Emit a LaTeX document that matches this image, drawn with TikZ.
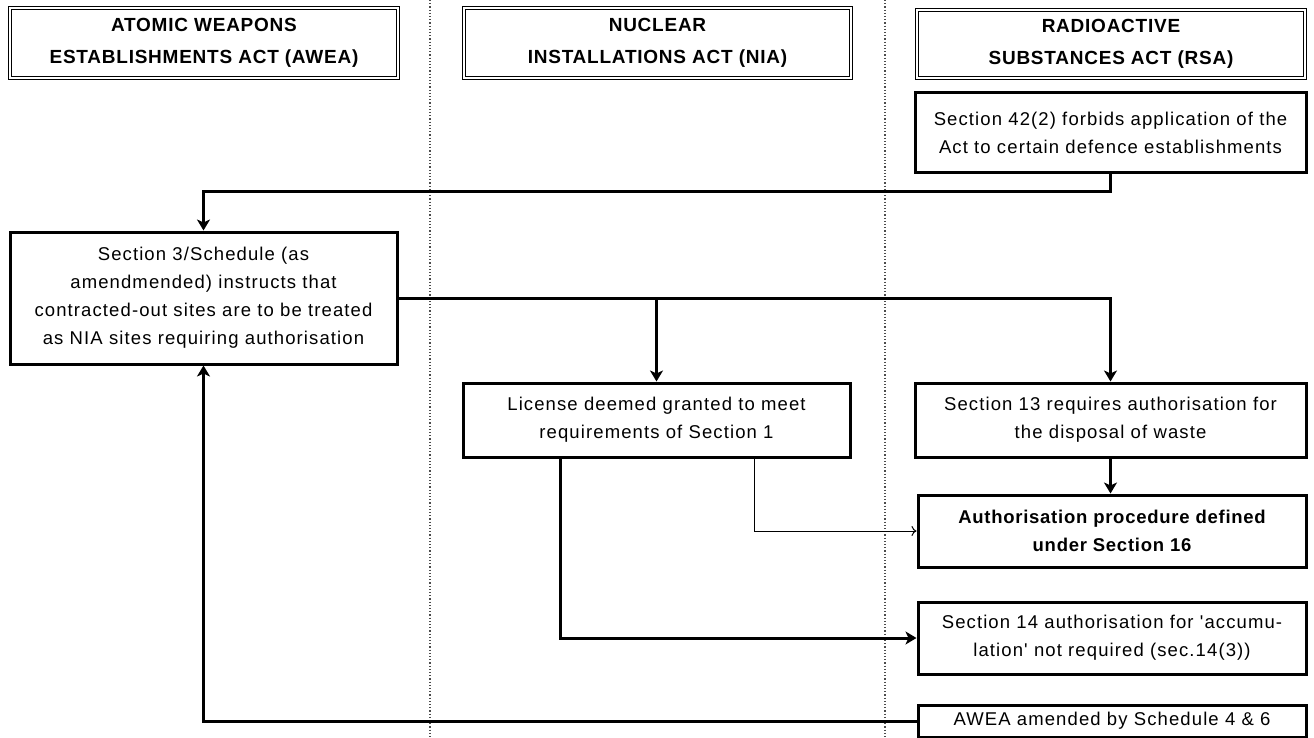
\documentclass[tikz,border=0pt]{standalone}
\usepackage{fontspec}
\setmainfont{Liberation Sans}
\newfontfamily\bodyfont{Liberation Sans}[LetterSpace=6]
\newfontfamily\hdrfont{Liberation Sans}[LetterSpace=4]
\usetikzlibrary{arrows.meta}
\tikzset{
  box/.style={draw, line width=3pt, align=center, inner sep=0pt,
    font=\bodyfont\fontsize{18.5}{28}\selectfont},
  hdr/.style={draw, double, double distance=2.2pt, line width=1.1pt, align=center, inner sep=0pt,
    font=\hdrfont\bfseries\fontsize{19}{32}\selectfont},
  conn/.style={line width=3pt, -{Stealth[length=11pt,width=13pt,inset=3pt]}},
  thinconn/.style={line width=1pt, -{To[length=5pt,width=10pt]}},
  sep/.style={line width=1.2pt, dotted, black!70}
}
\begin{document}
\begin{tikzpicture}[x=1pt,y=-1pt]
\useasboundingbox (0,0) rectangle (1314,738);
% separators
\coordinate (s1t) at (430,0); \coordinate (s1b) at (430,738);
\coordinate (s2t) at (885,0); \coordinate (s2b) at (885,738);
\draw[sep] (s1t) -- (s1b);
\draw[sep] (s2t) -- (s2b);
% headers
\node[hdr, minimum width=388, minimum height=70] (h1) at (204,43) {ATOMIC WEAPONS\\ESTABLISHMENTS ACT (AWEA)};
\node[hdr, minimum width=387, minimum height=70] (h2) at (657.5,43) {NUCLEAR\\INSTALLATIONS ACT (NIA)};
\node[hdr, minimum width=388, minimum height=68] (h3) at (1111,44) {RADIOACTIVE\\SUBSTANCES ACT (RSA)};
% boxes
\node[box, minimum width=391, minimum height=80] (b42) at (1110.5,133) {Section 42(2) forbids application of the\\Act to certain defence establishments};
\node[box, minimum width=387, minimum height=132] (awea) at (203.5,298) {Section 3/Schedule (as\\amendmended) instructs that\\contracted-out sites are to be treated\\as NIA sites requiring authorisation};
\node[box, minimum width=387, minimum height=74] (lic) at (656.5,420) {License deemed granted to meet\\requirements of Section 1};
\node[box, minimum width=391, minimum height=74] (s13) at (1110.5,420) {Section 13 requires authorisation for\\the disposal of waste};
\node[box, minimum width=388, minimum height=72, font=\hdrfont\bfseries\fontsize{18.5}{28}\selectfont] (auth) at (1112,531) {Authorisation procedure defined\\under Section 16};
\node[box, minimum width=388, minimum height=72] (s14) at (1112,638) {Section 14 authorisation for 'accumu-\\lation' not required (sec.14(3))};
\node[box, minimum width=388, minimum height=32] (amd) at (1112,721) {AWEA amended by Schedule 4 \& 6};
% connectors
\draw[conn] (b42.south) -- ++(0,17) -| (awea.north);
\draw[conn] (awea.east) -| (s13.north);
\draw[conn] (awea.east -| lic.north) -- (lic.north);
\draw[conn] (s13.south) -- (s13.south |- auth.north);
\draw[thinconn] ([xshift=97.5pt]lic.south) |- (auth.west);
\draw[conn] ([xshift=-96.5pt]lic.south) |- (s14.west);
\draw[conn] (amd.west) -| (awea.south);
\end{tikzpicture}
\end{document}
